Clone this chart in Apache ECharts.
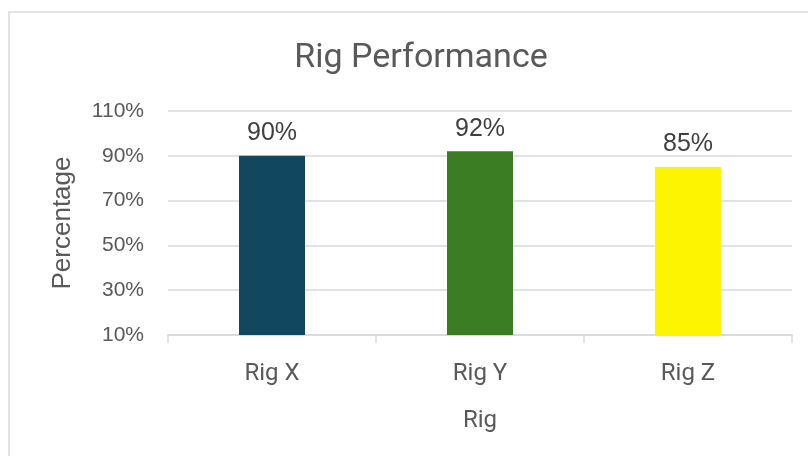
<!DOCTYPE html>
<html>
<head>
<meta charset="utf-8">
<script src="https://cdn.jsdelivr.net/npm/echarts@6/dist/echarts.min.js"></script>
<style>
  html, body { margin: 0; padding: 0; background: #fff; }
  #chart { width: 808px; height: 456px; }
</style>
</head>
<body>
<div id="chart"></div>
<script>
// data
var rigs = ['Rig X', 'Rig Y', 'Rig Z'];
var performance = [90, 92, 85];
var barColors = ['#124760', '#3b7d23', '#fcf400'];

var chart = echarts.init(document.getElementById('chart'));

var option = {
  backgroundColor: '#fff',
  animation: false,
  graphic: [{
    type: 'rect',
    shape: { x: 9, y: 12, width: 900, height: 500 },
    style: { fill: 'none', stroke: '#d9d9d9', lineWidth: 1.5 },
    silent: true
  }],
  title: {
    text: 'Rig Performance',
    left: 416,
    top: 36,
    textAlign: 'center',
    textStyle: {
      fontFamily: 'Roboto',
      fontWeight: 'normal',
      fontSize: 34,
      color: '#595959'
    }
  },
  grid: { left: 168, right: 16, top: 111, bottom: 121 },
  xAxis: {
    type: 'category',
    data: rigs,
    name: 'Rig',
    nameLocation: 'middle',
    nameGap: 74,
    nameTextStyle: { fontFamily: 'Roboto', fontSize: 24, color: '#595959' },
    axisLine: { lineStyle: { color: '#d9d9d9', width: 1.5 } },
    axisTick: { show: true, length: 8, lineStyle: { color: '#d9d9d9', width: 1.5 } },
    axisLabel: { fontFamily: 'Roboto', fontSize: 24, color: '#595959', margin: 27 }
  },
  yAxis: {
    type: 'value',
    min: 10,
    max: 110,
    interval: 20,
    name: 'Percentage',
    nameLocation: 'middle',
    nameGap: 92,
    nameTextStyle: { fontFamily: 'Liberation Sans', fontSize: 26, color: '#595959' },
    axisLine: { show: false },
    axisTick: { show: false },
    axisLabel: {
      fontFamily: 'Liberation Sans',
      fontSize: 21,
      color: '#595959',
      margin: 24,
      formatter: '{value}%'
    },
    splitLine: { lineStyle: { color: '#d9d9d9', width: 1.5 } }
  },
  series: [{
    type: 'bar',
    barWidth: 66,
    data: performance.map(function (v, i) {
      return { value: v, itemStyle: { color: barColors[i] } };
    }),
    label: {
      show: true,
      position: 'top',
      distance: 10,
      formatter: '{c}%',
      fontFamily: 'Liberation Sans',
      fontSize: 25,
      color: '#404040'
    }
  }]
};

chart.setOption(option);
</script>
</body>
</html>
